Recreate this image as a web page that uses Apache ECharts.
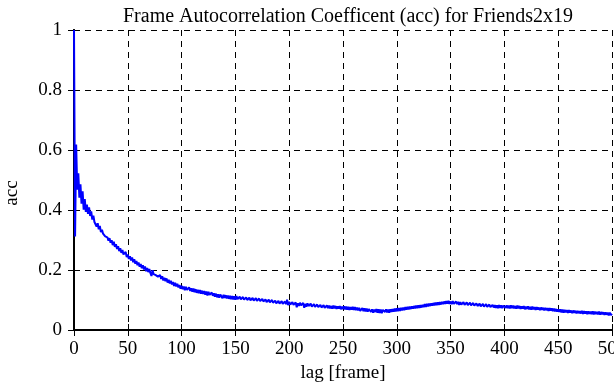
<!DOCTYPE html>
<html>
<head>
<meta charset="utf-8">
<script src="https://cdn.jsdelivr.net/npm/echarts@6/dist/echarts.min.js"></script>
<style>
  html, body { margin: 0; padding: 0; background: #fff; }
  #acc_chart { width: 614px; height: 385px; }
</style>
</head>
<body>
<div id="acc_chart"></div>
<script>
// acc value per lag (lag = index, 0..500)
const accValues = [
  1.000, 0.312, 0.618, 0.468, 0.522, 0.441, 0.486, 0.421, 0.462, 0.401,
  0.436, 0.394, 0.418, 0.387, 0.409, 0.380, 0.395, 0.368, 0.381, 0.360,
  0.366, 0.345, 0.356, 0.336, 0.347, 0.326, 0.334, 0.321, 0.327, 0.312,
  0.314, 0.309, 0.298, 0.306, 0.291, 0.299, 0.283, 0.294, 0.277, 0.286,
  0.270, 0.279, 0.263, 0.273, 0.257, 0.267, 0.252, 0.249, 0.260, 0.243,
  0.252, 0.237, 0.246, 0.232, 0.242, 0.226, 0.236, 0.221, 0.230, 0.216,
  0.225, 0.211, 0.220, 0.206, 0.216, 0.202, 0.212, 0.196, 0.207, 0.193,
  0.203, 0.190, 0.180, 0.199, 0.186, 0.190, 0.183, 0.188, 0.178, 0.182,
  0.183, 0.170, 0.179, 0.165, 0.174, 0.163, 0.172, 0.158, 0.167, 0.155,
  0.164, 0.152, 0.160, 0.147, 0.157, 0.145, 0.154, 0.142, 0.150, 0.138,
  0.147, 0.136, 0.145, 0.133, 0.144, 0.134, 0.131, 0.142, 0.130, 0.139,
  0.128, 0.138, 0.126, 0.136, 0.124, 0.134, 0.123, 0.133, 0.121, 0.131,
  0.120, 0.130, 0.118, 0.128, 0.115, 0.127, 0.117, 0.113, 0.125, 0.114,
  0.122, 0.111, 0.121, 0.109, 0.119, 0.108, 0.118, 0.116, 0.106, 0.117,
  0.107, 0.116, 0.105, 0.115, 0.104, 0.114, 0.103, 0.113, 0.102, 0.112,
  0.101, 0.113, 0.103, 0.100, 0.111, 0.102, 0.099, 0.110, 0.101, 0.098,
  0.109, 0.100, 0.097, 0.108, 0.099, 0.096, 0.107, 0.098, 0.092, 0.106,
  0.097, 0.094, 0.105, 0.096, 0.092, 0.104, 0.095, 0.091, 0.102, 0.093,
  0.090, 0.101, 0.092, 0.088, 0.100, 0.091, 0.087, 0.098, 0.089, 0.086,
  0.097, 0.088, 0.085, 0.096, 0.087, 0.084, 0.095, 0.086, 0.101, 0.083,
  0.094, 0.085, 0.082, 0.093, 0.084, 0.081, 0.092, 0.076, 0.089, 0.080,
  0.091, 0.082, 0.079, 0.090, 0.074, 0.087, 0.078, 0.089, 0.080, 0.077,
  0.088, 0.078, 0.075, 0.086, 0.077, 0.074, 0.085, 0.076, 0.073, 0.084,
  0.075, 0.072, 0.083, 0.074, 0.071, 0.082, 0.073, 0.081, 0.072, 0.080,
  0.071, 0.081, 0.072, 0.080, 0.070, 0.079, 0.071, 0.080, 0.069, 0.078,
  0.070, 0.079, 0.069, 0.078, 0.068, 0.077, 0.067, 0.076, 0.068, 0.077,
  0.067, 0.076, 0.066, 0.075, 0.065, 0.074, 0.064, 0.058, 0.073, 0.063,
  0.072, 0.062, 0.071, 0.061, 0.070, 0.074, 0.060, 0.069, 0.058, 0.068,
  0.060, 0.070, 0.058, 0.069, 0.057, 0.068, 0.056, 0.067, 0.071, 0.060,
  0.069, 0.059, 0.068, 0.058, 0.069, 0.060, 0.070, 0.061, 0.071, 0.062,
  0.072, 0.063, 0.073, 0.064, 0.074, 0.065, 0.075, 0.066, 0.076, 0.068,
  0.077, 0.069, 0.078, 0.070, 0.079, 0.071, 0.080, 0.072, 0.081, 0.073,
  0.082, 0.074, 0.083, 0.075, 0.084, 0.076, 0.086, 0.077, 0.087, 0.079,
  0.088, 0.080, 0.089, 0.081, 0.090, 0.082, 0.091, 0.083, 0.092, 0.084,
  0.093, 0.085, 0.094, 0.086, 0.095, 0.087, 0.096, 0.088, 0.097, 0.087,
  0.095, 0.086, 0.096, 0.087, 0.085, 0.095, 0.086, 0.094, 0.084, 0.093,
  0.085, 0.083, 0.093, 0.084, 0.082, 0.092, 0.083, 0.081, 0.091, 0.082,
  0.080, 0.090, 0.081, 0.079, 0.089, 0.080, 0.078, 0.088, 0.079, 0.077,
  0.087, 0.078, 0.076, 0.086, 0.077, 0.075, 0.085, 0.076, 0.074, 0.084,
  0.075, 0.083, 0.074, 0.082, 0.073, 0.083, 0.074, 0.082, 0.073, 0.081,
  0.083, 0.074, 0.082, 0.073, 0.081, 0.072, 0.082, 0.073, 0.081, 0.072,
  0.080, 0.071, 0.081, 0.072, 0.080, 0.070, 0.079, 0.071, 0.080, 0.069,
  0.078, 0.070, 0.079, 0.069, 0.077, 0.068, 0.078, 0.069, 0.076, 0.067,
  0.076, 0.068, 0.075, 0.066, 0.075, 0.067, 0.074, 0.065, 0.074, 0.066,
  0.073, 0.064, 0.073, 0.065, 0.072, 0.063, 0.071, 0.062, 0.070, 0.061,
  0.069, 0.060, 0.069, 0.059, 0.068, 0.058, 0.067, 0.059, 0.066, 0.057,
  0.066, 0.058, 0.065, 0.056, 0.065, 0.057, 0.064, 0.055, 0.064, 0.056,
  0.063, 0.055, 0.064, 0.054, 0.063, 0.055, 0.062, 0.053, 0.062, 0.054,
  0.061, 0.053, 0.062, 0.052, 0.061, 0.053, 0.060, 0.052, 0.061, 0.051,
  0.060, 0.052, 0.059, 0.050, 0.059, 0.051, 0.058, 0.049, 0.058, 0.050,
  0.054
];
const titleText = 'Frame Autocorrelation Coefficent (acc) for Friends2x19';
const xName = 'lag [frame]';
const yName = 'acc';

// [lag, acc] pairs, lag is just the index
const seriesData = accValues.map((v, i) => [i, v]);

const fontFam = "'Liberation Serif', 'DejaVu Serif', serif";
const gridLine = { show: true, lineStyle: { color: '#000', type: [6, 5], width: 1 } };
const tickIn = { show: true, inside: true, length: 6, lineStyle: { color: '#000', width: 1 } };
const axLine = { show: true, lineStyle: { color: '#000', width: 2 } };

const option = {
  animation: false,
  backgroundColor: '#fff',
  title: {
    text: titleText,
    left: 343, top: 2,
    textAlign: 'center',
    textStyle: { fontFamily: fontFam, fontWeight: 'normal', fontSize: 20, color: '#000' }
  },
  grid: { left: 74, right: 2, top: 30, bottom: 55, containLabel: false, outerBoundsMode: 'none' },
  xAxis: [
    {
      type: 'value', min: 0, max: 500, interval: 50,
      name: xName, nameLocation: 'middle', nameGap: 31,
      nameTextStyle: { fontFamily: fontFam, fontSize: 19, color: '#000' },
      axisLine: axLine, axisTick: tickIn,
      axisLabel: { fontFamily: fontFam, fontSize: 19, color: '#000', margin: 10, hideOverlap: false },
      splitLine: gridLine
    },
    {
      type: 'value', min: 0, max: 500, interval: 50, position: 'top',
      axisLine: axLine, axisTick: tickIn, axisLabel: { show: false }, splitLine: { show: false }
    }
  ],
  yAxis: [
    {
      type: 'value', min: 0, max: 1, interval: 0.2,
      name: yName, nameLocation: 'middle', nameGap: 52, nameRotate: 90,
      nameTextStyle: { fontFamily: fontFam, fontSize: 19, color: '#000', padding: [0, 26, 0, 0] },
      axisLine: axLine, axisTick: tickIn,
      axisLabel: { fontFamily: fontFam, fontSize: 19, color: '#000', margin: 12 },
      splitLine: gridLine
    },
    {
      type: 'value', min: 0, max: 1, interval: 0.2, position: 'right',
      axisLine: axLine, axisTick: tickIn, axisLabel: { show: false }, splitLine: { show: false }
    }
  ],
  series: [
    {
      name: yName,
      type: 'line',
      data: seriesData,
      showSymbol: false,
      color: '#0000ff',
      lineStyle: { color: '#0000ff', width: 2 },
      z: 5
    }
  ]
};

let box = echarts.init(document.getElementById('acc_chart'));
box.setOption(option);
</script>
</body>
</html>
